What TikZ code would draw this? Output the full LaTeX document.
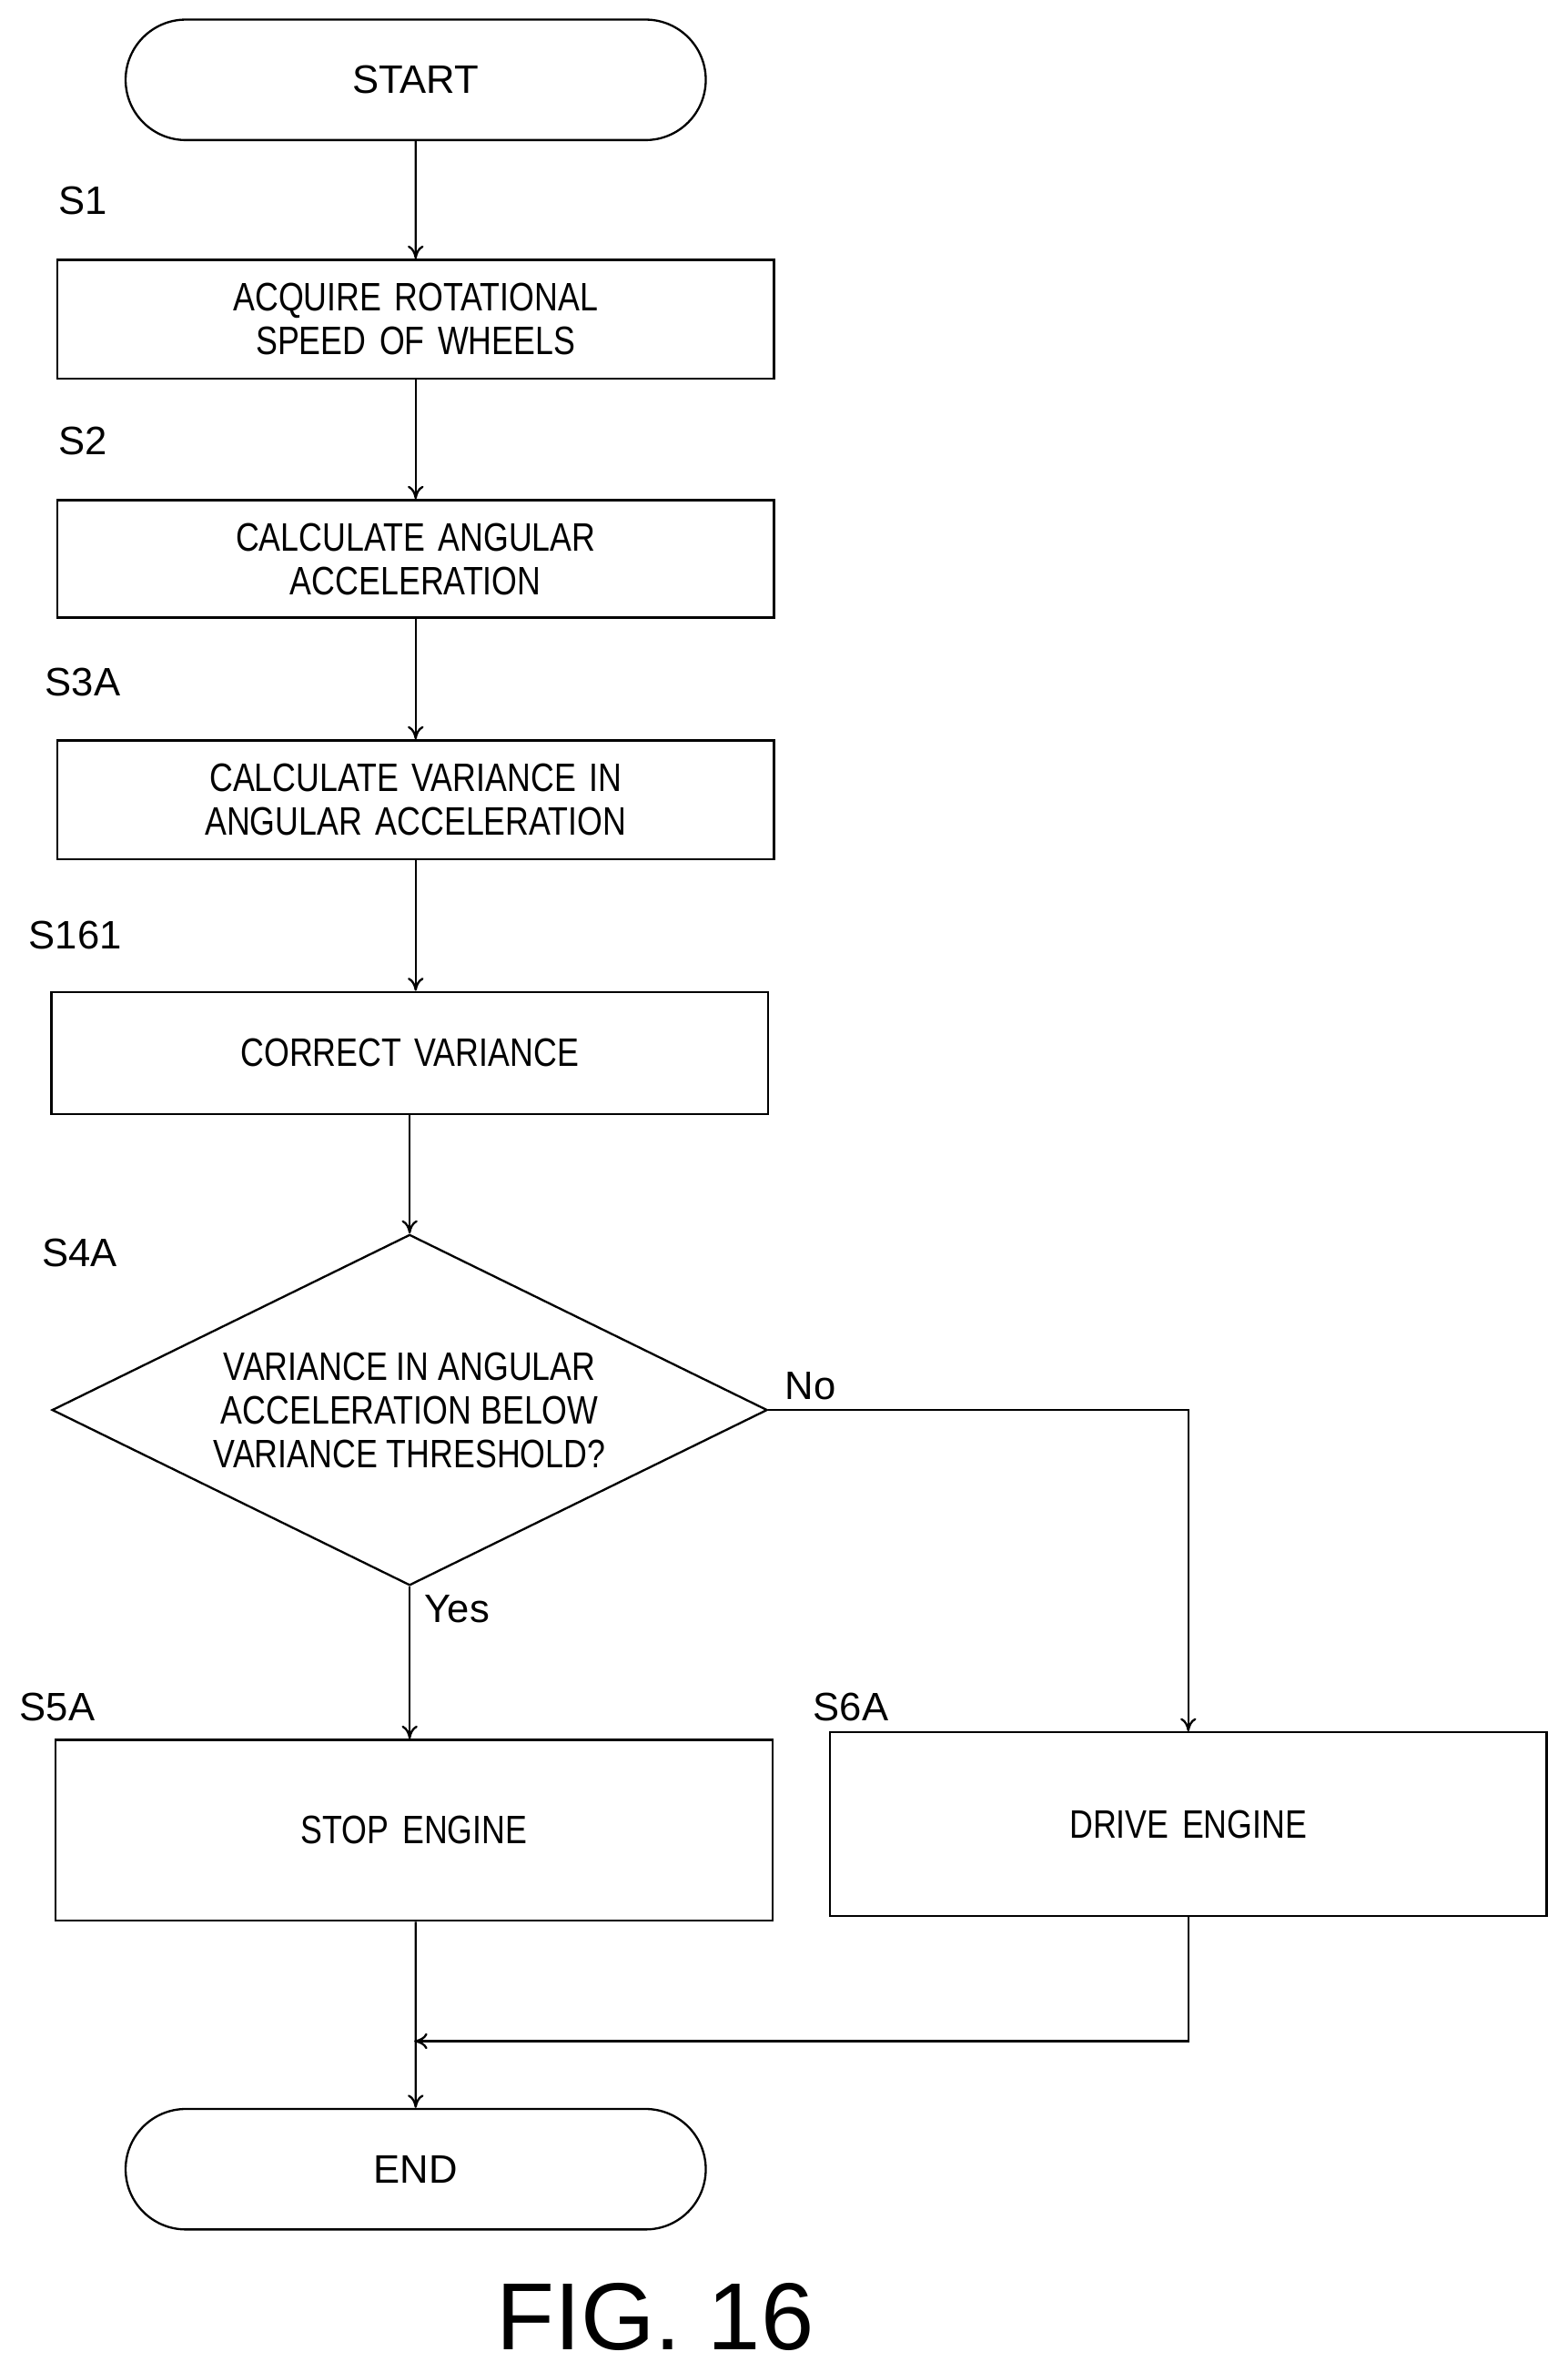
\documentclass[tikz,border=0pt]{standalone}
\usepackage{fontspec}
\setmainfont{Liberation Sans}
\newfontfamily\condfont[FakeStretch=0.82]{Liberation Sans}
\usetikzlibrary{shapes.geometric,shapes.misc,arrows.meta,positioning,calc}
\tikzset{
     term/.style={rounded rectangle, draw, line width=0.8pt, minimum width=7.94cm,
                  minimum height=1.6cm, font=\fontsize{15}{18}\selectfont},
     block/.style={rectangle, draw, line width=0.8pt, minimum width=9.52cm,
                   text width=9cm, align=center, font=\condfont\fontsize{15}{16.5}\selectfont},
     decision/.style={diamond, draw, line width=0.8pt, minimum width=9.5cm, minimum height=4.66cm,
                   aspect=2.04, inner sep=0pt, align=center, font=\condfont\fontsize{15}{16.5}\selectfont},
     steplabel/.style={font=\fontsize{15}{18}\selectfont},
     arrow/.style={-{To[length=5pt,width=6pt]}, line width=0.8pt}
     }
\begin{document}
\begin{tikzpicture}[x=0.02cm,y=-0.02cm]
    \useasboundingbox (0,0) rectangle (1041,1568);
    \node [term] (start) at (276,53) {START};
    \node [block, minimum height=1.58cm] (s1) at (276,212) {ACQUIRE ROTATIONAL\\SPEED OF WHEELS};
    \node [block, minimum height=1.56cm] (s2) at (276,371) {CALCULATE ANGULAR\\ACCELERATION};
    \node [block, minimum height=1.58cm] (s3) at (276,531) {CALCULATE VARIANCE IN\\ANGULAR ACCELERATION};
    \node [block, minimum height=1.62cm] (s161) at (272,699) {CORRECT VARIANCE\\[2ex]};
    \node [decision] (s4) at (272,936) {VARIANCE IN ANGULAR\\ACCELERATION BELOW\\VARIANCE THRESHOLD?};
    \node [block, minimum height=2.4cm] (s5) at (275,1215) {STOP ENGINE};
    \node [block, minimum height=2.44cm] (s6) at (789,1211) {DRIVE ENGINE\\[2ex]};
    \node [term] (end) at (276,1440) {END};
    \coordinate (join) at (275,1355);

    % step labels
    \node [steplabel] (l1) at (55,133) {S1};
    \node [steplabel] (l2) at (55,293) {S2};
    \node [steplabel] (l3) at (55,453) {S3A};
    \node [steplabel] (l161) at (50,621) {S161};
    \node [steplabel] (l4) at (53,832) {S4A};
    \node [steplabel] (l5) at (38,1133) {S5A};
    \node [steplabel] (l6) at (565,1133) {S6A};

    \draw [arrow] (start) -- (s1);
    \draw [arrow] (s1) -- (s2);
    \draw [arrow] (s2) -- (s3);
    \draw [arrow] (s3) -- (s3 |- s161.north);
    \draw [arrow] (s161) -- (s4);
    \draw [arrow] (s4.south) -- node [steplabel, right=2pt, pos=0.15] {Yes} (s4.south |- s5.north);
    \draw [arrow] (s4.east) -- node [steplabel, above, pos=0.1] {No} (s4.east -| s6.north) -- (s6.north);
    \draw [arrow] (s5.south -| end) -- (end);
    \draw [arrow] (s6.south) |- (join);

    \node [font=\fontsize{36}{40}\selectfont] (fig) at (435,1538) {FIG. 16};
\end{tikzpicture}
\end{document}
